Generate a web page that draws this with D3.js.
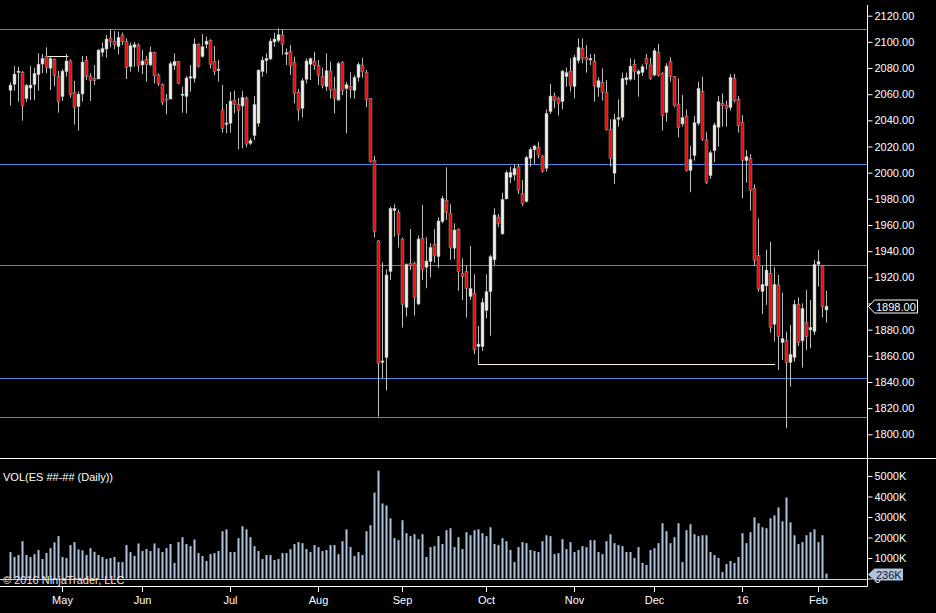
<!DOCTYPE html>
<html>
<head>
<meta charset="utf-8">
<script src="https://cdn.jsdelivr.net/npm/d3@7"></script>
<style>
  html, body { margin: 0; padding: 0; background: #000; }
  svg { display: block; font-family: "Liberation Sans", Arial, sans-serif; }
</style>
</head>
<body>
<div id="chart"></div>
<script>
// trading calendar
var startDate = "2015-04-14";
var endDate = "2016-02-03";
var holidays = ["2015-05-25", "2015-07-03", "2015-09-07", "2015-11-26", "2015-12-25", "2016-01-01", "2016-01-18"];

var tickMonths = ["2015-05", "2015-06", "2015-07", "2015-08", "2015-09", "2015-10", "2015-11", "2015-12", "2016-01", "2016-02"];
var tickLabels = ["May", "Jun", "Jul", "Aug", "Sep", "Oct", "Nov", "Dec", "16", "Feb"];

var open = [
  2063, 2067.5, 2076.5, 2076.7, 2056.6, 2064.7, 2067.3, 2074.9, 2083, 2088.7,
  2079.8, 2086.6, 2073.4, 2058.1, 2077.2, 2085.4, 2061.4, 2050.5, 2060.1, 2086.1,
  2073.6, 2072.1, 2071.6, 2092, 2094.5, 2102.7, 2100.4, 2096.3, 2105.2, 2100.1,
  2081, 2095.8, 2097.6, 2082.3, 2086.6, 2082.3, 2092, 2074.6, 2067.5, 2056.4,
  2056.3, 2081.8, 2085.1, 2059.1, 2058.1, 2072.9, 2072.1, 2098.1, 2088.7, 2098.1,
  2100.9, 2084.9, 2078, 2047.9, 2037.6, 2037.8, 2055.5, 2052.2, 2051, 2056.8,
  2022.4, 2028.3, 2037.8, 2077.2, 2085.6, 2086.9, 2099.9, 2100.9, 2105.2, 2091.5,
  2092.5, 2084.3, 2061.4, 2049.2, 2071.3, 2082.8, 2085.1, 2082, 2073.4, 2065.7,
  2077.7, 2064, 2055.5, 2084.3, 2064.2, 2066, 2062.7, 2072.9, 2082.3, 2076.7,
  2056.8, 2009.2, 1947.8, 1855.6, 1858.6, 1924.4, 1971, 1969.7, 1949.3, 1897.1,
  1930.7, 1930.7, 1899.6, 1949.8, 1927.7, 1932, 1945.3, 1935.8, 1962.6, 1978.6,
  1969, 1942.2, 1956.7, 1923.1, 1924.4, 1905.3, 1907.8, 1867, 1867, 1894.6,
  1909, 1933.3, 1965.9, 1953.2, 1979.9, 1996.5, 1998.2, 2004.6, 1984.2, 1977.9,
  2011, 2017.4, 2019.4, 2012.8, 2003.3, 2046.6, 2058.6, 2056.8, 2054.3, 2073.4,
  2077.7, 2065.8, 2085.6, 2095.1, 2088.2, 2086.1, 2084.9, 2065.2, 2069.1, 2061.4,
  2033.2, 1999.5, 2040.8, 2042.3, 2070.9, 2071.4, 2082.8, 2075.4, 2076.5, 2087.4,
  2082.3, 2074.6, 2092, 2076, 2045.9, 2084.9, 2073.4, 2052.5, 2037.2, 2043.3,
  2001.6, 2013, 2037.7, 2061.9, 2025, 1997.7, 2016.8, 2034.7, 2053, 2051.7,
  2049.7, 2072.1, 2056.1, 2038.5, 2009.2, 2011, 1988, 1936.6, 1909.1, 1913.4,
  1923.1, 1884.1, 1914.2, 1870.1, 1871.6, 1854.8, 1858.6, 1899.4, 1871.4, 1885.4,
  1879.8, 1878.5, 1929.9, 1928.7, 1895
];
var high = [
  2069, 2081.5, 2081, 2077.7, 2067.8, 2081.5, 2080.3, 2091.2, 2090.7, 2095.8,
  2088.7, 2087.4, 2077.7, 2079, 2090.7, 2086.6, 2070.1, 2062.2, 2089.2, 2089.2,
  2076, 2082.3, 2094.3, 2099.4, 2105.2, 2109.6, 2108.3, 2107.8, 2107, 2102.7,
  2099.4, 2099.9, 2098.9, 2093.8, 2089.4, 2096.3, 2092.5, 2076, 2068.3, 2060.1,
  2084.9, 2091.2, 2085.1, 2065.7, 2073.9, 2082.3, 2102.7, 2098.9, 2106, 2104,
  2101.9, 2096.8, 2086.1, 2067, 2052.5, 2061.9, 2062.7, 2057.3, 2062.4, 2058.1,
  2026.3, 2058.6, 2078.5, 2088.7, 2091.2, 2102.7, 2107, 2110.3, 2109.6, 2095,
  2097.6, 2088.7, 2064, 2072.1, 2087.4, 2088, 2092.5, 2086.1, 2080.3, 2091.2,
  2084.9, 2073.4, 2084.9, 2085.4, 2069.3, 2076.7, 2074.6, 2084.3, 2087.9, 2078.5,
  2056.8, 2012.8, 1948.6, 1931.5, 1926.1, 1974, 1975.8, 1971.5, 1950.4, 1930.7,
  1957, 1932, 1951.9, 1975.3, 1950.6, 1946, 1957, 1965.9, 1982.2, 2004.1,
  1975.8, 1961.3, 1957.5, 1934.6, 1928.7, 1944, 1922.3, 1882.8, 1904, 1922.3,
  1937.1, 1972.8, 1968.4, 1984.7, 2001.6, 2004.6, 2006.4, 2006.7, 1994.4, 2012.8,
  2019.4, 2021.2, 2023.7, 2013.5, 2048.4, 2067.8, 2061.2, 2058.1, 2078.5, 2080.3,
  2087.4, 2090, 2102.7, 2102.7, 2097.6, 2090.7, 2090.7, 2072.9, 2079.8, 2070.8,
  2040.8, 2045, 2056.1, 2076.5, 2076.5, 2087.4, 2086.6, 2079, 2082.8, 2090.7,
  2087.9, 2095.1, 2098.4, 2077.2, 2083.6, 2088.2, 2073.9, 2072.1, 2059.4, 2048.4,
  2020.4, 2043.3, 2069.6, 2073.4, 2030.9, 2016.8, 2038.2, 2058.6, 2060.6, 2055,
  2075.4, 2075.4, 2058.6, 2044, 2017.3, 2014.3, 1991.1, 1965.1, 1928.9, 1940.9,
  1947.3, 1927.7, 1921.8, 1908.3, 1878.5, 1883.6, 1902.7, 1904.7, 1900.1, 1910.3,
  1902.7, 1933.3, 1940.9, 1929.4, 1909.6
];
var low = [
  2051.2, 2062.7, 2054.3, 2039.8, 2054, 2055.5, 2055.5, 2062.7, 2076, 2076,
  2063.2, 2066.3, 2045.9, 2054.8, 2073.4, 2057.3, 2036.7, 2032.1, 2054.3, 2070.8,
  2054.8, 2067, 2071.6, 2088.7, 2087.9, 2095.8, 2094.5, 2090.4, 2097.6, 2071.6,
  2077.2, 2081, 2077.2, 2075.4, 2069.6, 2081.5, 2068.3, 2066.3, 2051.7, 2044.6,
  2056.1, 2078.5, 2067.8, 2045.9, 2045.4, 2061.9, 2068.8, 2080.3, 2087.9, 2095,
  2079.8, 2074.6, 2069.6, 2030.6, 2030.1, 2030.6, 2045.4, 2017.9, 2018.6, 2019.4,
  2021.2, 2025, 2035.2, 2073.4, 2076, 2086.1, 2096.3, 2099.6, 2090, 2082.3,
  2074.6, 2053, 2039.8, 2042.3, 2068.3, 2070.8, 2078.5, 2067, 2064.5, 2062.4,
  2056.8, 2045.4, 2055, 2059.4, 2030.1, 2056.8, 2056.6, 2069.6, 2072.6, 2050,
  2007.6, 1950.6, 1813.5, 1842.8, 1833.4, 1918, 1951.1, 1942.7, 1881.6, 1890,
  1925.6, 1890.7, 1898.9, 1918, 1911.6, 1920, 1931.2, 1927.4, 1961.3, 1963.9,
  1933.3, 1933.8, 1909.6, 1902.7, 1889.2, 1902.7, 1861.2, 1853.5, 1863.7, 1888.7,
  1875.4, 1929.4, 1958.3, 1952.4, 1979.6, 1991.9, 1993.9, 1983.7, 1974.6, 1977.1,
  2004.6, 2006.7, 2011, 2000, 2000.8, 2044.9, 2049.2, 2043.6, 2048.4, 2065.8,
  2062, 2056.8, 2083.6, 2083.6, 2076.5, 2082.3, 2054.3, 2058.1, 2055.1, 2032.1,
  2004.6, 1991.4, 2035.2, 2039.8, 2067, 2070.3, 2070.9, 2058.1, 2073.9, 2079,
  2070.9, 2073.4, 2073.4, 2032.1, 2039, 2069.6, 2050, 2027, 2035.2, 2000.8,
  1985, 2009.2, 2036, 2024.2, 1991.4, 1995.2, 2007.9, 2019.9, 2035.2, 2035.2,
  2047.4, 2053.5, 2030.6, 1980.4, 1992.4, 1971, 1928.7, 1909.1, 1892, 1898.9,
  1877.7, 1870.9, 1849.2, 1856.8, 1804.6, 1836.4, 1855.6, 1867.5, 1851, 1864.5,
  1865.8, 1876, 1912.9, 1889.4, 1885.4
];
var close = [
  2067, 2075.4, 2077.7, 2051.2, 2066.8, 2067, 2076, 2083, 2087.4, 2080.3,
  2087.4, 2074.4, 2054.5, 2077.7, 2085.4, 2059.6, 2049.9, 2060.1, 2084.6, 2073.4,
  2070.3, 2070.3, 2093.8, 2095, 2102.2, 2100.1, 2097.8, 2103.5, 2100.1, 2080.3,
  2097.1, 2098.1, 2081.8, 2085.4, 2082.8, 2092.2, 2074.2, 2068, 2053.8, 2056.1,
  2083.3, 2085.1, 2068.3, 2060.1, 2072.4, 2073.4, 2098.4, 2081.5, 2096.3, 2100.6,
  2082.8, 2077.2, 2079.2, 2033.9, 2038, 2054.8, 2052.2, 2047.4, 2057.6, 2021.9,
  2024.5, 2052.2, 2078.5, 2086.1, 2087.4, 2100.6, 2102.2, 2105.5, 2098.1, 2091.7,
  2081.8, 2060.6, 2047.9, 2070.3, 2085.4, 2087.2, 2082, 2074.6, 2066.5, 2078,
  2063.2, 2056.8, 2083.6, 2063, 2067.3, 2063.7, 2072.9, 2082.8, 2077.2, 2056.1,
  2008.4, 1955, 1854.3, 1856.1, 1921.8, 1972.8, 1972.8, 1952.9, 1899.4, 1930,
  1929.2, 1904.7, 1949.3, 1926.1, 1932.5, 1943, 1936.6, 1963.1, 1980.4, 1969.7,
  1943, 1956.2, 1924.4, 1920.5, 1911.6, 1911.6, 1864.5, 1869, 1900.9, 1909,
  1935.8, 1967.7, 1961.3, 1979.6, 2000, 2000.3, 2003.3, 1986.8, 1976.6, 2011.8,
  2017.9, 2020.4, 2013.5, 2000.8, 2045.4, 2058.6, 2055.1, 2053, 2077.7, 2076.5,
  2066.5, 2088.2, 2095.8, 2087.4, 2086.4, 2087.4, 2066.3, 2070.3, 2061.4, 2033.2,
  2011, 2040.8, 2042.1, 2072.1, 2072.6, 2081.5, 2077.2, 2077.7, 2081, 2083.1,
  2072.1, 2093.3, 2074.6, 2043.6, 2081.5, 2073.4, 2051.2, 2034.4, 2042.1, 2001.6,
  2010.2, 2038.2, 2064.5, 2025.5, 1992.4, 2015.3, 2036.5, 2054.3, 2051.2, 2049.2,
  2072.9, 2055, 2036, 2009.2, 2012.2, 1986.3, 1932.8, 1911.1, 1914.7, 1925.6,
  1881.6, 1914.7, 1874.7, 1873.4, 1854.8, 1861.2, 1899.4, 1870.1, 1896.3, 1874.7,
  1881.8, 1929.9, 1932, 1897.6, 1898
];
// volume in thousands of contracts
var volume = [
  1290, 1050, 1145, 1820, 1145, 1050, 1190, 1390, 950, 1240,
  1480, 1760, 2065, 1050, 1000, 1630, 1775, 1420, 1370, 1145,
  1480, 1305, 1145, 1050, 950, 1000, 1050, 805, 805, 1630,
  1290, 1100, 1710, 1340, 1435, 1340, 1710, 1480, 1290, 1480,
  1680, 760, 1775, 2015, 1680, 1580, 1900, 1240, 1100, 855,
  1190, 1240, 1340, 2305, 2400, 1290, 1290, 1970, 2550, 2400,
  2015, 1580, 1340, 950, 1145, 1145, 905, 950, 1240, 1240,
  1435, 1680, 1775, 1725, 1435, 1290, 1630, 1530, 1340, 1390,
  1630, 1630, 1190, 1820, 2400, 1530, 1100, 1290, 1145, 2305,
  2600, 4190, 5260, 3660, 3565, 2935, 1970, 1870, 2840, 2210,
  2065, 2160, 1920, 2160, 1050, 1530, 1580, 2065, 1680, 2355,
  2450, 1530, 2015, 1435, 2260, 2110, 2355, 2400, 2210, 2065,
  2500, 1680, 1630, 1970, 1820, 1390, 805, 1530, 1775, 1725,
  1390, 1340, 1290, 1820, 2110, 2065, 1190, 1240, 1920, 1435,
  1775, 1290, 1390, 1580, 1530, 1870, 1870, 1290, 1190, 1820,
  2160, 1725, 1630, 1580, 1290, 1290, 1000, 1530, 760, 660,
  1390, 1480, 1725, 2695, 2305, 1725, 2015, 2695, 805, 2355,
  2645, 2160, 2065, 2110, 2110, 1290, 1145, 1000, 320, 710,
  855, 760, 1050, 2210, 1725, 2260, 2985, 2695, 2500, 2450,
  2935, 3080, 3470, 2790, 3950, 2740, 2110, 1680, 1775, 2110,
  2260, 2400, 1775, 2110, 236
];

// drawn lines on the chart
var blueLevels = [2109.6, 2006.4, 1929.4, 1842.8, 1813.4];
var segPrice = [2089.2, 1853.5];
var segFrom = [9, 117];
var segTo = [14.6, 191.25];

var priceTicks = d3.range(1800, 2121, 20);
var volTicks = [0, 1000, 2000, 3000, 4000, 5000];

// build trading days
var dates = [];
var hol = new Set(holidays);
for (var d = new Date(startDate + "T00:00:00Z"); d <= new Date(endDate + "T00:00:00Z"); d.setUTCDate(d.getUTCDate() + 1)) {
    var wd = d.getUTCDay();
    var iso = d.toISOString().slice(0, 10);
    if (wd > 0 && wd < 6 && !hol.has(iso)) dates.push(iso);
}

var bars = dates.map(function(dt, i) {
    return { date: dt, i: i, o: open[i], h: high[i], l: low[i], c: close[i], v: volume[i] };
});

var width = 936, height = 613;
var axisX = 867.5;

var x = d3.scaleLinear().domain([0, 204]).range([10, 826]);
var y = d3.scaleLinear().domain([1800, 2120]).range([434.3, 15.7]);
var yv = d3.scaleLinear().domain([0, 5000]).range([578.5, 476]);

var last = bars[bars.length - 1];

var svg = d3.select("#chart").append("svg")
    .attr("width", width)
    .attr("height", height);

svg.append("rect").attr("width", width).attr("height", height).attr("fill", "#000");

// blue horizontal levels
svg.selectAll(".level")
    .data(blueLevels)
    .enter().append("line")
    .attr("x1", 0).attr("x2", axisX)
    .attr("y1", d => Math.round(y(d)) + 0.5)
    .attr("y2", d => Math.round(y(d)) + 0.5)
    .style("stroke", "#4f86e6")
    .style("stroke-width", 1);

// cream segments
svg.selectAll(".seg")
    .data(segPrice)
    .enter().append("line")
    .attr("x1", (d, k) => x(segFrom[k]))
    .attr("x2", (d, k) => x(segTo[k]))
    .attr("y1", d => Math.round(y(d)) + 0.5)
    .attr("y2", d => Math.round(y(d)) + 0.5)
    .style("stroke", "#fff5d8")
    .style("stroke-width", 1);

// candles
var candle = svg.selectAll(".candle")
    .data(bars)
    .enter().append("g")
    .attr("class", "candle");

candle.append("line")
    .attr("x1", d => x(d.i) + 0.5)
    .attr("x2", d => x(d.i) + 0.5)
    .attr("y1", d => y(d.h))
    .attr("y2", d => y(d.l))
    .style("stroke", "#bdbdbd")
    .style("stroke-width", 1);

candle.append("rect")
    .attr("x", d => x(d.i) - 1)
    .attr("width", 3)
    .attr("y", d => y(Math.max(d.o, d.c)))
    .attr("height", d => Math.max(1.5, Math.abs(y(d.o) - y(d.c))))
    .style("fill", d => d.c >= d.o ? "#f0f0e6" : "#ff0000")
    .style("stroke", "#9a9a9a")
    .style("stroke-width", 0.5);

// price axis (the label under the last-price tag is hidden)
var yAxis = d3.axisRight(y)
    .tickValues(priceTicks)
    .tickFormat(d => Math.abs(y(d) - y(last.c)) < 12 ? "" : d3.format(".2f")(d))
    .tickSize(5)
    .tickPadding(2);

var gy = svg.append("g")
    .attr("transform", "translate(" + axisX + ",0)")
    .call(yAxis);
gy.select(".domain").remove();
gy.selectAll("line").style("stroke", "#fff");
gy.selectAll("text").style("fill", "#fff").style("font-size", "11px")
    .style("font-family", "'Liberation Sans', Arial, sans-serif");

// panel frame
svg.append("line").attr("x1", axisX).attr("x2", axisX).attr("y1", 5).attr("y2", 586.5)
    .style("stroke", "#fff");
svg.append("line").attr("x1", 0).attr("x2", width).attr("y1", 458.5).attr("y2", 458.5)
    .style("stroke", "#fff");
svg.append("line").attr("x1", 0).attr("x2", axisX).attr("y1", 586.5).attr("y2", 586.5)
    .style("stroke", "#fff");

// volume bars
svg.selectAll(".vol")
    .data(bars)
    .enter().append("rect")
    .attr("x", d => x(d.i) - 0.5)
    .attr("width", 2)
    .attr("y", d => yv(d.v))
    .attr("height", d => yv(0) - yv(d.v))
    .style("fill", "#b0c4de");

svg.append("line").attr("x1", 0).attr("x2", axisX).attr("y1", Math.round(yv(0)) + 0.5).attr("y2", Math.round(yv(0)) + 0.5)
    .style("stroke", "#c8d2e2");

// volume axis
var vAxis = d3.axisRight(yv)
    .tickValues(volTicks)
    .tickFormat(d => d === 0 ? "0" : d + "K")
    .tickSize(5)
    .tickPadding(2);
var gv = svg.append("g")
    .attr("transform", "translate(" + axisX + ",0)")
    .call(vAxis);
gv.select(".domain").remove();
gv.selectAll("line").style("stroke", "#fff");
gv.selectAll("text").style("fill", "#fff").style("font-size", "11px")
    .style("font-family", "'Liberation Sans', Arial, sans-serif");

// time axis
var monthIdx = tickMonths.map(m => dates.findIndex(dt => dt.slice(0, 7) === m));
var tx = svg.append("g");
tx.selectAll("line")
    .data(monthIdx)
    .enter().append("line")
    .attr("x1", d => x(d) + 0.5).attr("x2", d => x(d) + 0.5)
    .attr("y1", 586.5).attr("y2", 592)
    .style("stroke", "#fff");
tx.selectAll("text")
    .data(monthIdx)
    .enter().append("text")
    .attr("x", d => x(d) + 0.5)
    .attr("y", 604)
    .attr("text-anchor", "middle")
    .style("fill", "#fff")
    .style("font-size", "11px")
    .text((d, k) => tickLabels[k]);

// labels
svg.append("text").attr("x", 3).attr("y", 480.5)
    .style("fill", "#fff").style("font-size", "11px")
    .text("VOL(ES ##-## (Daily))");
svg.append("text").attr("x", 3).attr("y", 584)
    .style("fill", "#e6e6e6").style("font-size", "11px")
    .text("\u00a9 2016 NinjaTrader, LLC");

// last price marker
var py = Math.round(y(last.c)) + 0.5;
svg.append("path")
    .attr("d", "M" + (axisX + 1) + "," + py + "L" + (axisX + 7) + "," + (py - 6.5) + "H917.5V" + (py + 6.5) + "H" + (axisX + 7) + "Z")
    .style("fill", "#000").style("stroke", "#fff");
svg.append("text").attr("x", 876).attr("y", py + 4)
    .style("fill", "#fff").style("font-size", "11px")
    .text(d3.format(".2f")(last.c));

// last volume marker
var vy = Math.round(yv(last.v)) + 0.5;
svg.append("path")
    .attr("d", "M" + (axisX + 1) + "," + vy + "L" + (axisX + 7) + "," + (vy - 5.5) + "H902.5V" + (vy + 5.5) + "H" + (axisX + 7) + "Z")
    .style("fill", "#b0c4de").style("stroke", "#b0c4de");
svg.append("text").attr("x", 876).attr("y", vy + 4)
    .style("fill", "#10163a").style("font-size", "11px")
    .text(last.v + "K");
</script>
</body>
</html>
